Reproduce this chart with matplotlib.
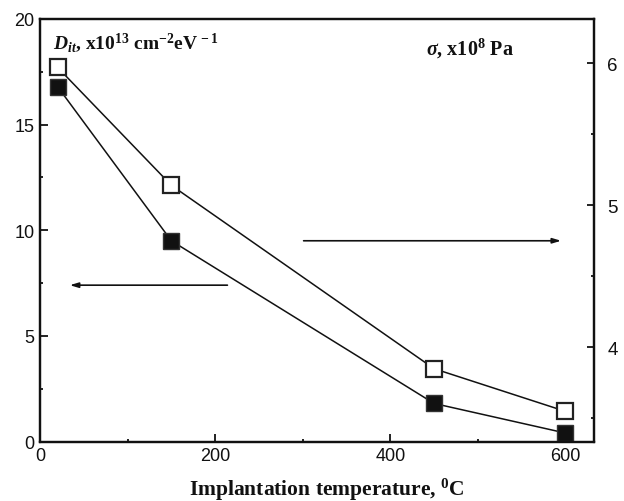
import matplotlib
matplotlib.use("Agg")
import matplotlib.pyplot as plt
from matplotlib.ticker import MultipleLocator

# Data
temperature = [20, 150, 450, 600]
dit = [16.8, 9.5, 1.8, 0.4]          # filled squares, left axis
sigma = [5.97, 5.14, 3.85, 3.55]     # open squares, right axis

x_ticks = [0, 200, 400, 600]
left_ticks = [0, 5, 10, 15, 20]
right_ticks = [4, 5, 6]

plt.rcParams['mathtext.fontset'] = 'custom'
plt.rcParams['mathtext.rm'] = 'Liberation Serif:bold'
plt.rcParams['mathtext.it'] = 'Liberation Serif:bold:italic'
plt.rcParams['mathtext.bf'] = 'Liberation Serif:bold'

fig = plt.figure(figsize=(6.24, 5.02), dpi=100)
ax = fig.add_axes([40/624, 1-442.5/502, (593.5-40)/624, (442.5-20)/502])
ax2 = ax.twinx()

ink = '#111111'
ax.plot(temperature, dit, color=ink, lw=1.1, marker='s', ms=11,
        mfc=ink, mec='#333333', mew=1.0, zorder=3, clip_on=False)
ax2.plot(temperature, sigma, color=ink, lw=1.1, marker='s', ms=11,
         mfc='white', mec='#222222', mew=1.6, zorder=3, clip_on=False)

ax.set_xlim(0, 632)
ax.set_ylim(0, 20)
ax2.set_ylim(3.338, 6.31)

ax.set_xticks(x_ticks)
ax.xaxis.set_minor_locator(MultipleLocator(100))
ax.set_yticks(left_ticks)
ax.yaxis.set_minor_locator(MultipleLocator(2.5))
ax2.set_yticks(right_ticks)
ax2.yaxis.set_minor_locator(MultipleLocator(0.5))

for a in (ax, ax2):
    for s in a.spines.values():
        s.set_linewidth(1.6)
        s.set_color(ink)

ax.tick_params(axis='both', which='major', direction='in', length=6, width=1.3,
               labelsize=13, colors=ink, pad=4, labelfontfamily='Liberation Sans')
ax.tick_params(axis='both', which='minor', direction='in', length=2.5, width=1.3, colors=ink)
ax.tick_params(axis='y', which='both', right=False)
ax2.tick_params(axis='y', which='major', direction='in', length=5, width=1.3,
                labelsize=13.5, colors=ink, pad=10, labelfontfamily='Liberation Sans')
ax2.tick_params(axis='y', which='minor', direction='in', length=2.5, width=1.3, colors=ink)
ax.tick_params(axis='x', which='both', top=False)

# Arrows
ax.annotate('', xy=(34, 7.4), xytext=(214, 7.4),
            arrowprops=dict(arrowstyle='-|>,head_length=0.5,head_width=0.15',
                            color=ink, lw=1.2, shrinkA=0, shrinkB=0))
ax2.annotate('', xy=(595, 4.75), xytext=(301, 4.75),
             arrowprops=dict(arrowstyle='-|>,head_length=0.5,head_width=0.15',
                             color=ink, lw=1.2, shrinkA=0, shrinkB=0))

# Labels
fig.text(53/624, 1-49/502,
         r"$\mathit{D}_{\mathit{it}}$, x10$^{13}$ cm$^{-2}$eV$^{\,-1}$",
         fontsize=14, family='Liberation Serif', weight='bold', color=ink,
         ha='left', va='baseline')
fig.text(426/624, 1-55/502, r"$\mathit{\sigma}$, x10$^{8}$ Pa",
         fontsize=14.5, family='Liberation Serif', weight='bold', color=ink,
         ha='left', va='baseline')
fig.text(327/624, 1-496/502, r"Implantation temperature, $^{0}$C",
         fontsize=15.5, family='Liberation Serif', weight='bold', color=ink,
         ha='center', va='baseline')

fig.savefig('out.png', dpi=100)
